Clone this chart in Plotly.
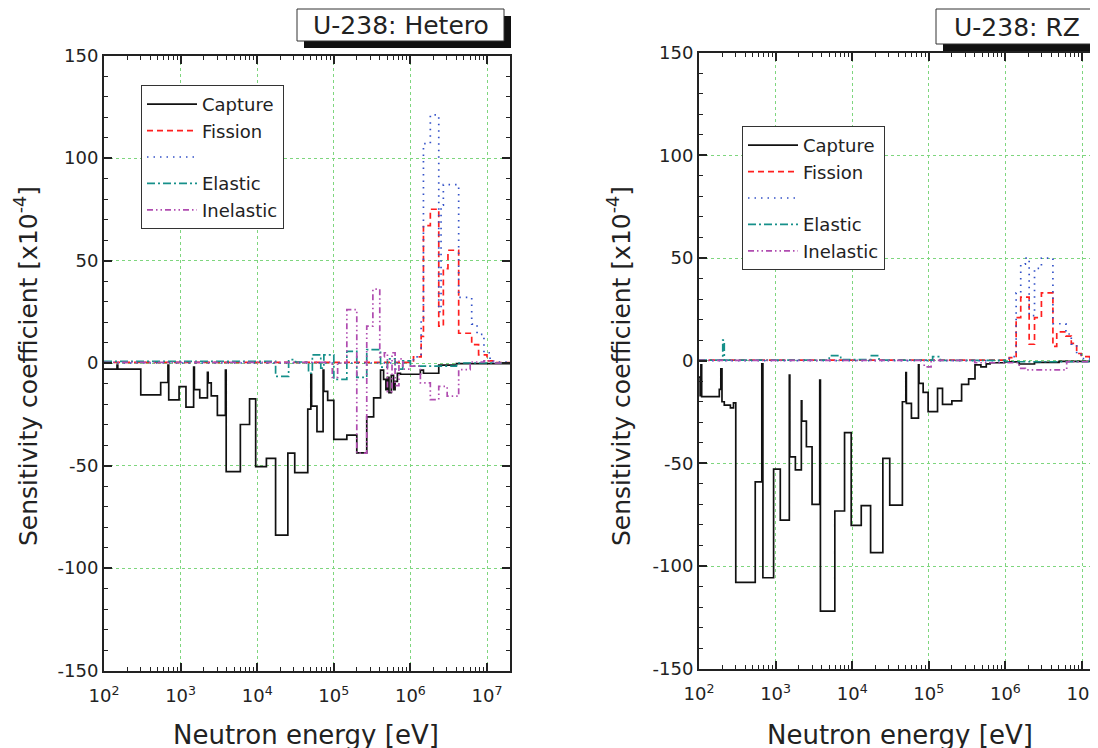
import plotly.graph_objects as go

W, H = 1098, 748
OX, OY = 8, 8          # page body margin of the browser
def px(x): return (x - OX) / W
def py(y): return 1 - (y - OY) / H

# ---------------- data (log10 of energy in eV for group edges, values in 1e-4) -------------
series_names = ["Capture", "Fission", " ", "Elastic", "Inelastic"]

# U-238 : Hetero
het_cap_logE = [2.00, 2.17, 2.18, 2.48, 2.74, 2.835, 2.845, 2.98, 3.07, 3.17, 3.18, 3.25, 3.35, 3.36,
                3.40, 3.48, 3.585, 3.595, 3.78, 3.90, 3.98, 4.12, 4.24, 4.40, 4.49, 4.66, 4.70, 4.71,
                4.78, 4.86, 4.87, 4.92, 5.00, 5.17, 5.30, 5.43, 5.52, 5.61, 5.65, 5.68, 5.70, 5.72,
                5.75, 5.78, 5.80, 5.83, 5.87, 6.13, 6.17, 6.37, 6.60, 7.30]
het_cap_vals = [-3, -1, -3, -15.5, -9.5, -1, -18, -11.5, -21.5, -2, -13, -17, -4.5, -9.7, -16,
                -25.5, -3.5, -53, -30, -17.5, -50.5, -46.5, -84, -44, -53.5, -22.5, -5.5, -21,
                -33.5, -3.5, -13.8, -18.2, -37.3, -35.2, -43.8, -26.3, -17, -3.5, -8, -13, -7,
                -14.5, -6, -13, -9, -5, -5.5, -3.5, -5, -1, -0.3]

het_fis_logE = [2.00, 6.04, 6.14, 6.17, 6.26, 6.37, 6.43, 6.49, 6.63, 6.80, 6.89, 7.00, 7.11, 7.30]
het_fis_vals = [0.3, 3, 13, 67, 75, 18, 46, 55, 14.5, 9, 4, 1, 0.2]

het_nu_logE = [2.00, 6.04, 6.14, 6.17, 6.26, 6.37, 6.40, 6.43, 6.63, 6.80, 6.87, 6.96, 7.04, 7.30]
het_nu_vals = [0, 3, 22, 107, 121, 25, 77, 87, 32, 19, 14, 5, 0.5]

het_ela_logE = [2.00, 4.24, 4.41, 4.50, 4.67, 4.72, 4.83, 4.87, 5.00, 5.17, 5.30, 5.43, 5.61, 5.70,
                5.80, 5.90, 6.00, 6.60, 7.30]
het_ela_vals = [0.8, -6.5, 1.6, 0.5, -5, 4, -2.5, 4, -8, 5.7, -7, 6.5, -2, 2, -3, 1, -1.5, 0]

het_ine_logE = [2.00, 4.98, 5.05, 5.17, 5.30, 5.43, 5.51, 5.60, 5.66, 5.70, 5.76, 5.80, 5.85, 5.90,
                6.00, 6.13, 6.26, 6.37, 6.48, 6.63, 6.78, 6.96, 7.11, 7.30]
het_ine_vals = [0.3, -7, 0, 26, -44, 18, 36, 3, 5, -14, 5, -11, 2, -3, -1.5, -9.7, -17.9, -11.4,
                -16.2, -3.2, 0.5, 1, 0]

# U-238 : RZ
rz_cap_logE = [2.00, 2.015, 2.025, 2.035, 2.265, 2.285, 2.30, 2.33, 2.41, 2.45, 2.48, 2.734, 2.82,
               2.834, 2.974, 3.061, 3.179, 3.186, 3.258, 3.336, 3.343, 3.402, 3.476, 3.576, 3.585,
               3.773, 3.90, 3.987, 4.118, 4.24, 4.40, 4.49, 4.655, 4.70, 4.707, 4.773, 4.865, 4.872,
               4.926, 4.991, 5.114, 5.179, 5.301, 5.428, 5.52, 5.603, 5.68, 5.75, 5.80, 5.99, 6.18,
               6.38, 6.70, 7.30]
rz_cap_vals = [-8, -17, -2, -17.5, -14, -4, -20, -21.6, -23, -20.5, -108, -59, -1.5, -105.7, -52.8,
               -77.6, -7, -46.8, -53.2, -19.6, -29.4, -41.9, -70, -9.4, -122, -73.2, -35, -80.2,
               -70.6, -93.5, -47.6, -70.3, -20, -5.8, -20.8, -28, -2, -11, -15.4, -24.8, -13.5,
               -21.3, -19.6, -11.5, -8.9, -2, -3, -1.5, -1, -0.6, -1.6, -0.8, -0.3]

rz_fis_logE = [2.00, 6.05, 6.14, 6.20, 6.31, 6.38, 6.47, 6.62, 6.67, 6.79, 6.86, 6.93, 6.99, 7.10, 7.30]
rz_fis_vals = [0.3, 1.5, 21, 31, 8, 21, 33, 7, 14, 12, 8.4, 3.5, 2, 0.4]

rz_nu_logE = [2.00, 6.05, 6.14, 6.20, 6.26, 6.31, 6.38, 6.47, 6.62, 6.67, 6.79, 6.86, 6.93, 7.00,
              7.10, 7.30]
rz_nu_vals = [0, 2, 33, 47, 50, 22, 45, 50, 18, 18, 13, 8, 3, 1, 0.2]

rz_ela_logE = [2.00, 2.31, 2.33, 3.70, 3.85, 4.25, 4.35, 5.05, 5.15, 6.00, 7.30]
rz_ela_vals = [0.3, 10, 0.3, 2.5, 0.5, 2.5, 0.3, 2, 0.2, -0.5]

rz_ine_logE = [2.00, 4.94, 5.03, 5.60, 6.18, 6.26, 6.62, 6.80, 7.30]
rz_ine_vals = [0.2, -3, 0.2, -1, -3.7, -4.5, -4.5, -0.5]

x_tick_exponents = [2, 3, 4, 5, 6, 7]
y_tick_vals = [-150, -100, -50, 0, 50, 100, 150]
y_tick_text = ["-150", "-100", "-50", "0", "50", "100", "150"]

# ---------------- styles ----------------
FONT = "DejaVu Sans"
TXT = "#222222"
styles = [
    dict(color="#111111", width=1.7, dash="solid"),
    dict(color="#ff1f1f", width=1.7, dash="6px,4px"),
    dict(color="#3452c8", width=1.7, dash="1.5px,5px"),
    dict(color="#16908a", width=1.7, dash="8px,3px,2px,3px"),
    dict(color="#b04cb0", width=1.7, dash="6px,3px,1.5px,3px,1.5px,3px"),
]

fig = go.Figure()

def add_panel(sets, xa, ya, legend):
    for i, (le, vals) in enumerate(sets):
        xs = [10 ** e for e in le]
        ys = list(vals) + [vals[-1]]
        fig.add_trace(go.Scatter(
            x=xs, y=ys, mode="lines", line_shape="hv", name=series_names[i],
            line=styles[i], xaxis=xa, yaxis=ya, legend=legend,
            legendgroup=legend + str(i), hoverinfo="skip"))

add_panel([(het_cap_logE, het_cap_vals), (het_fis_logE, het_fis_vals), (het_nu_logE, het_nu_vals),
           (het_ela_logE, het_ela_vals), (het_ine_logE, het_ine_vals)], "x", "y", "legend")
add_panel([(rz_cap_logE, rz_cap_vals), (rz_fis_logE, rz_fis_vals), (rz_nu_logE, rz_nu_vals),
           (rz_ela_logE, rz_ela_vals), (rz_ine_logE, rz_ine_vals)], "x2", "y2", "legend2")

minor_x = [m * 10 ** e for e in range(2, 8) for m in range(2, 10)]
xt_text = ["10<sup>%d</sup>" % e for e in x_tick_exponents]

def xaxis_cfg(domain, rng, mirror, anchor):
    return dict(type="log", domain=domain, range=rng, anchor=anchor, automargin=False,
                tickmode="array", tickvals=[10 ** e for e in x_tick_exponents], ticktext=xt_text,
                ticks="inside", ticklen=8, tickwidth=1.5, tickcolor=TXT, ticklabelstandoff=8,
                minor=dict(tickmode="array", tickvals=minor_x, ticks="inside", ticklen=4,
                           tickwidth=1.2, tickcolor=TXT, showgrid=False),
                showgrid=True, gridcolor="#7ed67e", griddash="dot", gridwidth=1,
                showline=True, linecolor=TXT, linewidth=2, mirror=mirror,
                zeroline=False, tickfont=dict(family=FONT, size=18, color=TXT))

def yaxis_cfg(domain, anchor, mirror):
    return dict(domain=domain, anchor=anchor, range=[-150, 150], automargin=False,
                tickmode="array", tickvals=y_tick_vals, ticktext=y_tick_text,
                ticks="inside", ticklen=8, tickwidth=1.5, tickcolor=TXT,
                minor=dict(dtick=10, tick0=0, ticks="inside", ticklen=4, tickwidth=1.2,
                           tickcolor=TXT, showgrid=False),
                showgrid=True, gridcolor="#7ed67e", griddash="dot", gridwidth=1,
                showline=True, linecolor=TXT, linewidth=2, mirror=mirror,
                zeroline=False, tickfont=dict(family=FONT, size=18, color=TXT))

L_x0, L_x1, L_top, L_bot = 104, 510, 55.5, 670.5
R_x0, R_top, R_bot = 699, 52.7, 668.7
dec_px = (L_x1 - L_x0) / 5.3
R_x1 = W + OX
r_max = 2 + (R_x1 - R_x0) / dec_px

legend_common = dict(xanchor="left", yanchor="top", bgcolor="white", bordercolor="#333",
                     borderwidth=1, font=dict(family=FONT, size=18, color=TXT),
                     tracegroupgap=0, traceorder="grouped", itemwidth=50)

fig.update_layout(
    width=W, height=H, margin=dict(l=0, r=0, t=0, b=0, autoexpand=False),
    paper_bgcolor="white", plot_bgcolor="white", showlegend=True,
    xaxis=xaxis_cfg([px(L_x0), px(L_x1)], [2, 7.3], "ticks", "y"),
    yaxis=yaxis_cfg([py(L_bot), py(L_top)], "x", "ticks"),
    xaxis2=xaxis_cfg([px(R_x0), 1.0], [2, r_max], "ticks", "y2"),
    yaxis2=yaxis_cfg([py(R_bot), py(R_top)], "x2", "ticks"),
    legend=dict(x=px(141), y=py(85), **legend_common),
    legend2=dict(x=px(742), y=py(126), **legend_common),
)

shapes = []
annotations = []
def title_box(x0, y0, x1, y1, text):
    shapes.append(dict(type="rect", xref="paper", yref="paper", x0=px(x0 + 7), x1=px(x1 + 7),
                       y0=py(y1 + 7), y1=py(y0 + 7), fillcolor="#111", line=dict(width=0)))
    shapes.append(dict(type="rect", xref="paper", yref="paper", x0=px(x0), x1=px(x1),
                       y0=py(y1), y1=py(y0), fillcolor="white", line=dict(color="#333", width=1)))
    annotations.append(dict(xref="paper", yref="paper", x=px((x0 + x1) / 2), y=py((y0 + y1) / 2 + 1),
                            text=text, showarrow=False, xanchor="center", yanchor="middle",
                            font=dict(family=FONT, size=25, color=TXT)))

title_box(297, 9, 504, 41, "U-238: Hetero")
title_box(936, 9, 1097, 44, "U-238: RZ")

ytitle = "Sensitivity coefficient [x10<sup>-4</sup>]"
for xc in (26, 619):
    annotations.append(dict(xref="paper", yref="paper", x=px(xc), y=py(366), text=ytitle,
                            textangle=-90, showarrow=False, xanchor="center", yanchor="middle",
                            font=dict(family=FONT, size=25, color=TXT)))
for xc in (306, 900):
    annotations.append(dict(xref="paper", yref="paper", x=px(xc), y=py(735),
                            text="Neutron energy [eV]", showarrow=False, xanchor="center",
                            yanchor="middle", font=dict(family=FONT, size=26, color=TXT)))

fig.update_layout(shapes=shapes, annotations=annotations)
fig.write_html("out.html")
